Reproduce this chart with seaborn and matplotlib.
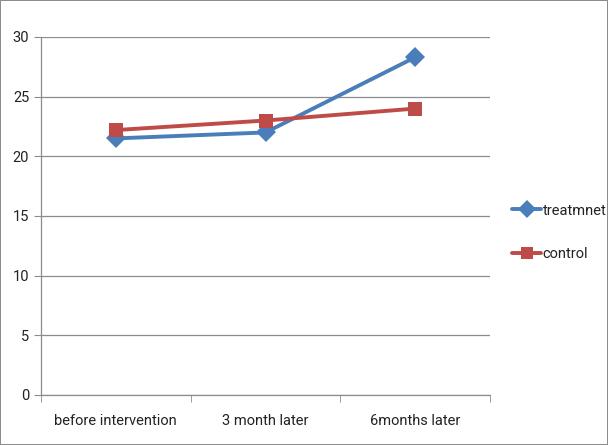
import pandas as pd
import matplotlib.pyplot as plt
import seaborn as sns

# data
time_points = ["before intervention", "3 month later", "6months later"]
treatment = [21.5, 22.0, 28.3]
control = [22.2, 23.0, 24.0]
groups = ["treatmnet", "control"]

df = pd.DataFrame({
    "time": time_points * 2,
    "value": treatment + control,
    "group": [groups[0]] * 3 + [groups[1]] * 3,
})

sns.set_style("white")
plt.rcParams["font.family"] = ["Roboto", "DejaVu Sans"]
plt.rcParams["text.color"] = "#222222"
plt.rcParams["xtick.color"] = "#222222"
plt.rcParams["ytick.color"] = "#222222"

fig = plt.figure(figsize=(6.08, 4.45), dpi=100)
fig.patch.set_edgecolor("#8c8c8c")
fig.patch.set_linewidth(1.2)
ax = fig.add_axes([0.0674, 0.1124, 0.7386, 0.8045])

sns.lineplot(data=df, x="time", y="value", hue="group", style="group",
             markers={"treatmnet": "D", "control": "s"}, dashes=False,
             palette={"treatmnet": "#4A7EBB", "control": "#BE4B48"},
             sort=False, linewidth=2.8, markersize=10, markeredgewidth=0, ax=ax)

ax.set_ylim(0, 30)
ax.set_yticks(range(0, 31, 5))
ax.set_xlim(-0.5, 2.5)
ax.grid(axis="y", color="#8c8c8c", linewidth=0.9)
ax.set_axisbelow(True)
for s in ["top", "right"]:
    ax.spines[s].set_visible(False)
for s in ["left", "bottom"]:
    ax.spines[s].set_color("#8c8c8c")
    ax.spines[s].set_linewidth(0.9)

ax.set_xticks([0, 1, 2])
ax.set_xticks([-0.5, 0.5, 1.5, 2.5], minor=True)
ax.tick_params(axis="x", which="major", length=0, pad=14, labelsize=10.5)
ax.tick_params(axis="x", which="minor", length=5, color="#8c8c8c", direction="out", bottom=True)
ax.tick_params(axis="y", length=5, color="#8c8c8c", direction="out", left=True, labelsize=10.5)
ax.set_xlabel("")
ax.set_ylabel("")

ax.legend(loc="center left", bbox_to_anchor=(1.02, 0.455), frameon=False,
          fontsize=10.5, handlelength=2.0, handletextpad=0.1, labelspacing=2.0,
          markerscale=0.9)

fig.savefig("out.png", dpi=100)
